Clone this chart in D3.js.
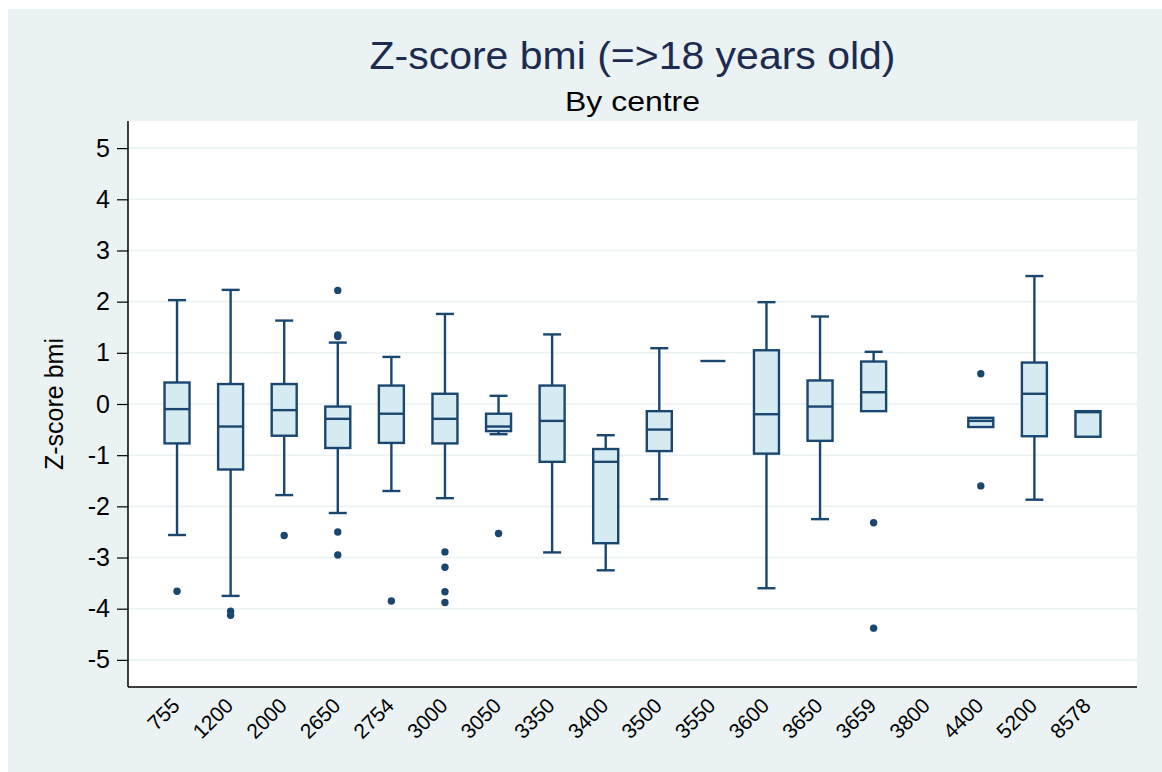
<!DOCTYPE html>
<html>
<head>
<meta charset="utf-8">
<script src="https://cdn.jsdelivr.net/npm/d3@7"></script>
<style>
  html, body { margin: 0; padding: 0; background: #fff; }
  svg { display: block; font-family: "Liberation Sans", Arial, sans-serif; }
</style>
</head>
<body>
<svg id="chart" width="1162" height="772"></svg>
<script>
// centres and box statistics (null = no data)
const centres = ["755", "1200", "2000", "2650", "2754", "3000", "3050", "3350", "3400",
                 "3500", "3550", "3600", "3650", "3659", "3800", "4400", "5200", "8578"];
const upperWhisker = [2.03, 2.23, 1.63, 1.20, 0.92, 1.76, 0.16, 1.36, -0.61,
                      1.09, 0.84, 1.99, 1.71, 1.02, null, -0.27, 2.50, -0.14];
const q3Values = [0.42, 0.39, 0.39, -0.05, 0.36, 0.20, -0.19, 0.36, -0.88,
                  -0.14, 0.84, 1.05, 0.46, 0.83, null, -0.27, 0.81, -0.14];
const medians = [-0.10, -0.44, -0.12, -0.29, -0.19, -0.29, -0.44, -0.33, -1.13,
                 -0.50, 0.84, -0.20, -0.05, 0.23, null, -0.33, 0.20, -0.16];
const q1Values = [-0.77, -1.28, -0.62, -0.86, -0.76, -0.77, -0.53, -1.13, -2.72,
                  -0.92, 0.84, -0.97, -0.72, -0.14, null, -0.45, -0.63, -0.64];
const lowerWhisker = [-2.56, -3.75, -1.78, -2.13, -1.70, -1.84, -0.59, -2.90, -3.25,
                      -1.86, 0.84, -3.60, -2.25, -0.14, null, -0.45, -1.87, -0.64];
const outliers = [[-3.66], [-4.05, -4.13], [-2.57], [2.22, 1.35, 1.32, -2.50, -2.95], [-3.85],
                  [-2.89, -3.19, -3.67, -3.88], [-2.53], [], [], [], [], [], [],
                  [-2.32, -4.38], [], [0.59, -1.60], [], []];
const yTicks = [-5, -4, -3, -2, -1, 0, 1, 2, 3, 4, 5];

const titleText = "Z-score bmi (=>18 years old)";
const subtitleText = "By centre";
const yLabel = "Z-score bmi";

const svg = d3.select("#chart"),
      width = +svg.attr("width"),
      height = +svg.attr("height"),
      margin = { top: 121, right: 25, bottom: 85, left: 128 },
      plotWidth = width - margin.left - margin.right,
      plotHeight = height - margin.top - margin.bottom;

const lineColor = "#1a476f",
      boxFill = "#d6eaf1",
      panelColor = "#eaf2f3";

// panel + plot region
svg.append("rect")
  .attr("x", 8).attr("y", 9)
  .attr("width", width - 8).attr("height", height - 9)
  .attr("fill", panelColor);

const g = svg.append("g")
  .attr("transform", `translate(${margin.left},${margin.top})`);

g.append("rect")
  .attr("width", plotWidth)
  .attr("height", plotHeight)
  .attr("fill", "#fff");

const x = d3.scalePoint()
  .domain(centres)
  .range([0, plotWidth])
  .padding(0.915);

const y = d3.scaleLinear()
  .domain([-5.53, 5.53])
  .range([plotHeight, 0]);

// grid
g.selectAll(".grid")
  .data(yTicks)
  .enter().append("line")
  .attr("x1", 0).attr("x2", plotWidth)
  .attr("y1", d => y(d)).attr("y2", d => y(d))
  .attr("stroke", panelColor)
  .attr("stroke-width", 1.6);

// box data
const boxes = centres.map((c, i) => ({
  centre: c, hi: upperWhisker[i], q3: q3Values[i], med: medians[i],
  q1: q1Values[i], lo: lowerWhisker[i], out: outliers[i]
})).filter(d => d.med !== null);

const boxW = 25, capW = 18;

const bg = g.selectAll(".box")
  .data(boxes)
  .enter().append("g")
  .attr("transform", d => `translate(${x(d.centre)},0)`);

// whiskers
bg.filter(d => d.hi > d.q3).append("line")
  .attr("y1", d => y(d.hi)).attr("y2", d => y(d.q3));
bg.filter(d => d.hi > d.q3).append("line")
  .attr("x1", -capW / 2).attr("x2", capW / 2)
  .attr("y1", d => y(d.hi)).attr("y2", d => y(d.hi));
bg.filter(d => d.lo < d.q1).append("line")
  .attr("y1", d => y(d.q1)).attr("y2", d => y(d.lo));
bg.filter(d => d.lo < d.q1).append("line")
  .attr("x1", -capW / 2).attr("x2", capW / 2)
  .attr("y1", d => y(d.lo)).attr("y2", d => y(d.lo));

bg.selectAll("line")
  .attr("stroke", lineColor)
  .attr("stroke-width", 2.4);

// boxes
bg.append("rect")
  .attr("x", -boxW / 2)
  .attr("width", boxW)
  .attr("y", d => y(d.q3))
  .attr("height", d => y(d.q1) - y(d.q3))
  .attr("fill", boxFill)
  .attr("stroke", lineColor)
  .attr("stroke-width", 2.4);

bg.append("line")
  .attr("x1", -boxW / 2).attr("x2", boxW / 2)
  .attr("y1", d => y(d.med)).attr("y2", d => y(d.med))
  .attr("stroke", lineColor)
  .attr("stroke-width", 2.4);

// outside values
bg.selectAll("circle")
  .data(d => d.out)
  .enter().append("circle")
  .attr("cy", d => y(d))
  .attr("r", 3.7)
  .attr("fill", lineColor);

// axes
const yAxis = g.append("g")
  .call(d3.axisLeft(y).tickValues(yTicks).tickSize(11).tickPadding(7).tickFormat(d3.format("d")));
yAxis.select(".domain").attr("d", `M0,0V${plotHeight}`).attr("stroke-width", 1.5);
yAxis.selectAll(".tick line").attr("stroke-width", 1.2);
yAxis.selectAll("text")
  .attr("font-size", "25px")
  .attr("fill", "#000")
  .text(d => d < 0 ? "-" + Math.abs(d) : d);

g.append("line")
  .attr("x1", 0).attr("x2", plotWidth)
  .attr("y1", plotHeight).attr("y2", plotHeight)
  .attr("stroke", "#000")
  .attr("stroke-width", 1.5);

g.selectAll(".xlab")
  .data(centres)
  .enter().append("text")
  .attr("transform", d => `translate(${x(d) + 4},${plotHeight + 20}) rotate(-45)`)
  .attr("text-anchor", "end")
  .attr("font-size", "21px")
  .attr("fill", "#000")
  .text(d => d);

// y label
svg.append("text")
  .attr("transform", `translate(63,${margin.top + y(0)}) rotate(-90)`)
  .attr("text-anchor", "middle")
  .attr("font-size", "25px")
  .attr("fill", "#000")
  .text(yLabel);

// titles
svg.append("text")
  .attr("x", margin.left + plotWidth / 2)
  .attr("y", 69)
  .attr("text-anchor", "middle")
  .attr("font-size", "38px")
  .attr("textLength", 526)
  .attr("lengthAdjust", "spacingAndGlyphs")
  .attr("fill", "#1c2b4f")
  .text(titleText);

svg.append("text")
  .attr("x", margin.left + plotWidth / 2)
  .attr("y", 111)
  .attr("text-anchor", "middle")
  .attr("font-size", "27px")
  .attr("textLength", 135)
  .attr("lengthAdjust", "spacingAndGlyphs")
  .attr("fill", "#000")
  .text(subtitleText);
</script>
</body>
</html>
